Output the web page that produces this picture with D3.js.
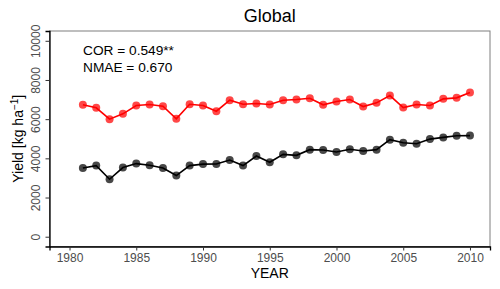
<!DOCTYPE html>
<html><head><meta charset="utf-8">
<script src="https://cdn.jsdelivr.net/npm/d3@7"></script>
<style>body{margin:0;background:#fff}svg{display:block;font-family:"Liberation Sans",Arial,sans-serif}</style>
</head><body>
<script>
const years = d3.range(1981, 2011);
const simulated = [6731,6579,6000,6273,6696,6746,6660,6019,6762,6700,6406,6965,6762,6797,6746,6965,7000,7067,6731,6899,7000,6645,6833,7204,6594,6746,6696,7036,7087,7356];
const observed = [3508,3630,2933,3528,3732,3645,3508,3121,3630,3705,3711,3915,3630,4118,3798,4204,4154,4443,4423,4321,4466,4372,4443,4952,4799,4748,4982,5069,5155,5160];
const xTicks = [1980,1985,1990,1995,2000,2005,2010];
const yTicks = [0,2000,4000,6000,8000,10000];
const title = "Global";
const statLines = ["COR = 0.549**","NMAE = 0.670"];

const W=500,H=289;
const m={l:49.5,r:10,t:31,b:42.5};
const svg=d3.select("body").append("svg").attr("width",W).attr("height",H);
const x=d3.scaleLinear().domain([1978.5,2011.5]).range([m.l,W-m.r]);
const y=d3.scaleLinear().domain([-500,10500]).range([H-m.b,m.t]);

svg.append("rect").attr("x",m.l).attr("y",m.t).attr("width",W-m.r-m.l).attr("height",H-m.b-m.t)
  .attr("fill","none").attr("stroke","#7f7f7f").attr("stroke-width",1);

const xa=svg.append("g").attr("transform",`translate(0,${H-m.b})`)
  .call(d3.axisBottom(x).tickValues(xTicks).tickFormat(d3.format("d")).tickSize(4).tickPadding(3));
const ya=svg.append("g").attr("transform",`translate(${m.l},0)`)
  .call(d3.axisLeft(y).tickValues(yTicks).tickFormat(d3.format("d")).tickSize(4).tickPadding(3));
[xa,ya].forEach(a=>{
  a.select(".domain").attr("stroke","#000").attr("stroke-width",1.3);
  a.selectAll(".tick line").attr("stroke","#333").attr("stroke-width",1);
  a.selectAll(".tick text").attr("fill","#4d4d4d").attr("font-size",12).attr("font-family","Liberation Sans, Arial, sans-serif");
});
ya.selectAll(".tick text").attr("text-anchor","middle").attr("dy",0)
  .attr("transform",`translate(-10,0) rotate(-90)`).attr("x",0).attr("y",0);

function series(data,col){
  const pts=years.map((yr,i)=>[yr,data[i]]);
  svg.append("path").datum(pts).attr("fill","none").attr("stroke",col).attr("stroke-width",1.6)
    .attr("d",d3.line().x(d=>x(d[0])).y(d=>y(d[1])));
  svg.append("g").selectAll("circle").data(pts).join("circle")
    .attr("cx",d=>x(d[0])).attr("cy",d=>y(d[1])).attr("r",4)
    .attr("fill",col).attr("fill-opacity",0.72);
}
series(observed,"#000");
series(simulated,"#ff0000");

svg.append("text").attr("x",(m.l+W-m.r)/2).attr("y",22).attr("text-anchor","middle")
  .attr("font-size",18).attr("fill","#000").text(title);
statLines.forEach((t,i)=>svg.append("text").attr("x",83).attr("y",55+i*16.5)
  .attr("font-size",13.7).attr("fill","#000").text(t));
svg.append("text").attr("x",(m.l+W-m.r)/2).attr("y",278).attr("text-anchor","middle")
  .attr("font-size",14).attr("fill","#000").text("YEAR");
const yl=svg.append("text").attr("transform",`translate(23,${(m.t+H-m.b)/2}) rotate(-90)`)
  .attr("text-anchor","middle").attr("font-size",14).attr("fill","#000");
yl.append("tspan").text("Yield [kg ha");
yl.append("tspan").attr("dy",-5).attr("font-size",10).text("−1");
yl.append("tspan").attr("dy",5).text("]");
</script>
</body></html>
